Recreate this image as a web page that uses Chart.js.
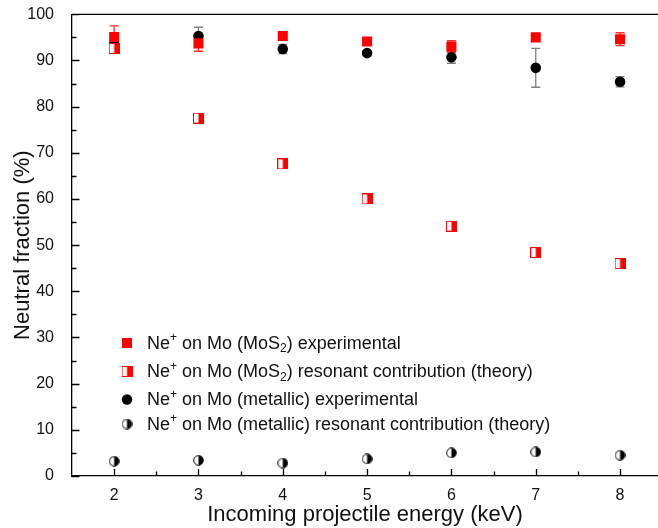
<!DOCTYPE html>
<html>
<head>
<meta charset="utf-8">
<script src="https://cdn.jsdelivr.net/npm/chart.js@4.4.1/dist/chart.umd.min.js"></script>
<style>
    html, body { margin: 0; padding: 0; background: #fff; }
</style>
</head>
<body>
<canvas id="graficoFraccion" width="658" height="528"></canvas>
<script>
// Datos
const energias = [2, 3, 4, 5, 6, 7, 8];
const mos2Exp = [95.1, 93.7, 95.3, 94.1, 93.0, 95.0, 94.6];
const mos2ExpErr = [2.4, 1.7, 0.8, 0.5, 1.3, 0.5, 1.4];
const mos2Teo = [92.6, 77.5, 67.6, 60.0, 54.1, 48.4, 46.0];
const metalExp = [93.5, 95.3, 92.5, 91.6, 90.7, 88.4, 85.4];
const metalExpErr = [1.7, 1.9, 1.0, 0.5, 1.3, 4.2, 1.1];
const metalTeo = [3.2, 3.4, 2.8, 3.7, 5.0, 5.2, 4.5];

const ticksX = [2, 3, 4, 5, 6, 7, 8];
const ticksY = [0, 10, 20, 30, 40, 50, 60, 70, 80, 90, 100];

// ^x = superíndice, _x = subíndice
const nombresSeries = [
    "Ne^+ on Mo (MoS_2) experimental",
    "Ne^+ on Mo (MoS_2) resonant contribution (theory)",
    "Ne^+ on Mo (metallic) experimental",
    "Ne^+ on Mo (metallic) resonant contribution (theory)"
];

const FUENTE = "'Liberation Sans', Arial, sans-serif";
const ROJO = "#ff0000";

// Marcadores semillenos
function cuadroMitad() {
    const c = document.createElement("canvas");
    c.width = 11; c.height = 11;
    const g = c.getContext("2d");
    g.fillStyle = "#fff";
    g.fillRect(0, 0, 11, 11);
    g.fillStyle = ROJO;
    g.fillRect(5.5, 0.5, 5, 10);
    g.strokeStyle = ROJO;
    g.lineWidth = 1;
    g.strokeRect(0.5, 0.5, 10, 10);
    return c;
}

function circuloMitad() {
    const c = document.createElement("canvas");
    c.width = 11; c.height = 11;
    const g = c.getContext("2d");
    g.beginPath();
    g.arc(5.5, 5.5, 4.8, 0, Math.PI * 2);
    g.fillStyle = "#fff";
    g.fill();
    g.beginPath();
    g.arc(5.5, 5.5, 4.8, -Math.PI / 2, Math.PI / 2);
    g.closePath();
    g.fillStyle = "#000";
    g.fill();
    g.beginPath();
    g.arc(5.5, 5.5, 4.8, 0, Math.PI * 2);
    g.strokeStyle = "#000";
    g.lineWidth = 1;
    g.stroke();
    return c;
}

const imgCuadro = cuadroMitad();
const imgCirculo = circuloMitad();

function puntos(valores) {
    return energias.map((e, i) => ({ x: e, y: valores[i] }));
}

// Barras de error (debajo de los marcadores)
const barrasError = {
    id: "barrasError",
    beforeDatasetsDraw(chart) {
        const { ctx, scales: { x, y } } = chart;
        const series = [
            { vals: metalExp, errs: metalExpErr, color: "#808080" },
            { vals: mos2Exp, errs: mos2ExpErr, color: "#ff2a2a" }
        ];
        ctx.save();
        ctx.lineWidth = 1.3;
        series.forEach(s => {
            ctx.strokeStyle = s.color;
            energias.forEach((e, i) => {
                const px = x.getPixelForValue(e);
                const y1 = y.getPixelForValue(s.vals[i] + s.errs[i]);
                const y2 = y.getPixelForValue(s.vals[i] - s.errs[i]);
                ctx.beginPath();
                ctx.moveTo(px, y1); ctx.lineTo(px, y2);
                ctx.moveTo(px - 4.5, y1); ctx.lineTo(px + 4.5, y1);
                ctx.moveTo(px - 4.5, y2); ctx.lineTo(px + 4.5, y2);
                ctx.stroke();
            });
        });
        ctx.restore();
    }
};

// Marcas hacia dentro, línea superior y leyenda
function textoRico(ctx, texto, x, y) {
    const partes = texto.split(/(\^.|_.)/).filter(p => p.length);
    partes.forEach(p => {
        if (p[0] === "^") {
            ctx.font = "12px " + FUENTE;
            ctx.fillText(p[1], x, y - 6);
            x += ctx.measureText(p[1]).width;
        } else if (p[0] === "_") {
            ctx.font = "12px " + FUENTE;
            ctx.fillText(p[1], x, y + 5);
            x += ctx.measureText(p[1]).width;
        } else {
            ctx.font = "18px " + FUENTE;
            ctx.fillText(p, x, y);
            x += ctx.measureText(p).width;
        }
    });
}

const decoracion = {
    id: "decoracion",
    afterDraw(chart) {
        const { ctx, chartArea: a, scales: { x, y } } = chart;
        ctx.save();
        ctx.strokeStyle = "#000";
        ctx.lineWidth = 1.3;
        ctx.beginPath();
        ctx.moveTo(a.left, a.top);
        ctx.lineTo(a.right, a.top);
        // marcas eje x
        for (let v = 2; v <= x.max + 1e-9; v += 0.5) {
            const px = Math.round(x.getPixelForValue(v)) + 0.5;
            const largo = Number.isInteger(v) ? 7 : 4.5;
            ctx.moveTo(px, a.bottom);
            ctx.lineTo(px, a.bottom - largo);
        }
        // marcas eje y
        for (let v = y.min; v <= y.max; v += 5) {
            const py = Math.round(y.getPixelForValue(v)) + 0.5;
            const largo = v % 10 === 0 ? 7.5 : 4.5;
            ctx.moveTo(a.left, py);
            ctx.lineTo(a.left + largo, py);
        }
        ctx.stroke();

        // leyenda
        const filas = [343, 371.5, 399.5, 424];
        const mx = 127, tx = 147;
        ctx.fillStyle = ROJO;
        ctx.fillRect(mx - 5, filas[0] - 5, 10, 10);
        ctx.drawImage(imgCuadro, mx - 5.5, filas[1] - 5.5);
        ctx.fillStyle = "#000";
        ctx.beginPath();
        ctx.arc(mx, filas[2], 5.2, 0, Math.PI * 2);
        ctx.fill();
        ctx.drawImage(imgCirculo, mx - 5.5, filas[3] - 5.5);

        ctx.fillStyle = "#111";
        ctx.textBaseline = "middle";
        nombresSeries.forEach((n, i) => textoRico(ctx, n, tx, filas[i] + 1));
        ctx.restore();
    }
};

new Chart(document.getElementById("graficoFraccion"), {
    type: "scatter",
    data: {
        datasets: [
            {
                label: nombresSeries[0],
                data: puntos(mos2Exp),
                pointStyle: "rect",
                pointRadius: 7.1,
                backgroundColor: ROJO,
                borderColor: ROJO,
                borderWidth: 0
            },
            {
                label: nombresSeries[1],
                data: puntos(mos2Teo),
                pointStyle: imgCuadro
            },
            {
                label: nombresSeries[2],
                data: puntos(metalExp),
                pointStyle: "circle",
                pointRadius: 5.3,
                backgroundColor: "#000",
                borderColor: "#000",
                borderWidth: 0
            },
            {
                label: nombresSeries[3],
                data: puntos(metalTeo),
                pointStyle: imgCirculo
            }
        ]
    },
    options: {
        responsive: false,
        animation: false,
        devicePixelRatio: 1,
        layout: { autoPadding: false, padding: { top: 14.3, right: 0, left: 0, bottom: 0 } },
        plugins: {
            legend: { display: false },
            tooltip: { enabled: false }
        },
        scales: {
            x: {
                type: "linear",
                min: 1.5,
                max: 8.45,
                afterFit(s) {
                    s.height = 52;
                    s.paddingLeft = 0;
                    s.paddingRight = 0;
                },
                afterBuildTicks(s) { s.ticks = ticksX.map(v => ({ value: v })); },
                grid: { display: false },
                border: { display: true, color: "#000", width: 1.3 },
                ticks: {
                    padding: 2,
                    color: "#111",
                    font: { family: FUENTE, size: 16 },
                    maxRotation: 0
                },
                title: {
                    display: true,
                    text: "Incoming projectile energy (keV)",
                    color: "#111",
                    font: { family: FUENTE, size: 22 },
                    padding: { top: 0, bottom: 0 }
                }
            },
            y: {
                min: 0,
                max: 100,
                afterFit(s) {
                    s.width = 72;
                    s.paddingTop = 0;
                    s.paddingBottom = 0;
                },
                afterBuildTicks(s) { s.ticks = ticksY.map(v => ({ value: v })); },
                grid: { display: false },
                border: { display: true, color: "#000", width: 1.3 },
                ticks: {
                    padding: 10,
                    color: "#111",
                    font: { family: FUENTE, size: 16 }
                },
                title: {
                    display: true,
                    text: "Neutral fraction (%)",
                    color: "#111",
                    font: { family: FUENTE, size: 22 },
                    padding: { top: 10, bottom: 0 }
                }
            }
        }
    },
    plugins: [barrasError, decoracion]
});
</script>
</body>
</html>
